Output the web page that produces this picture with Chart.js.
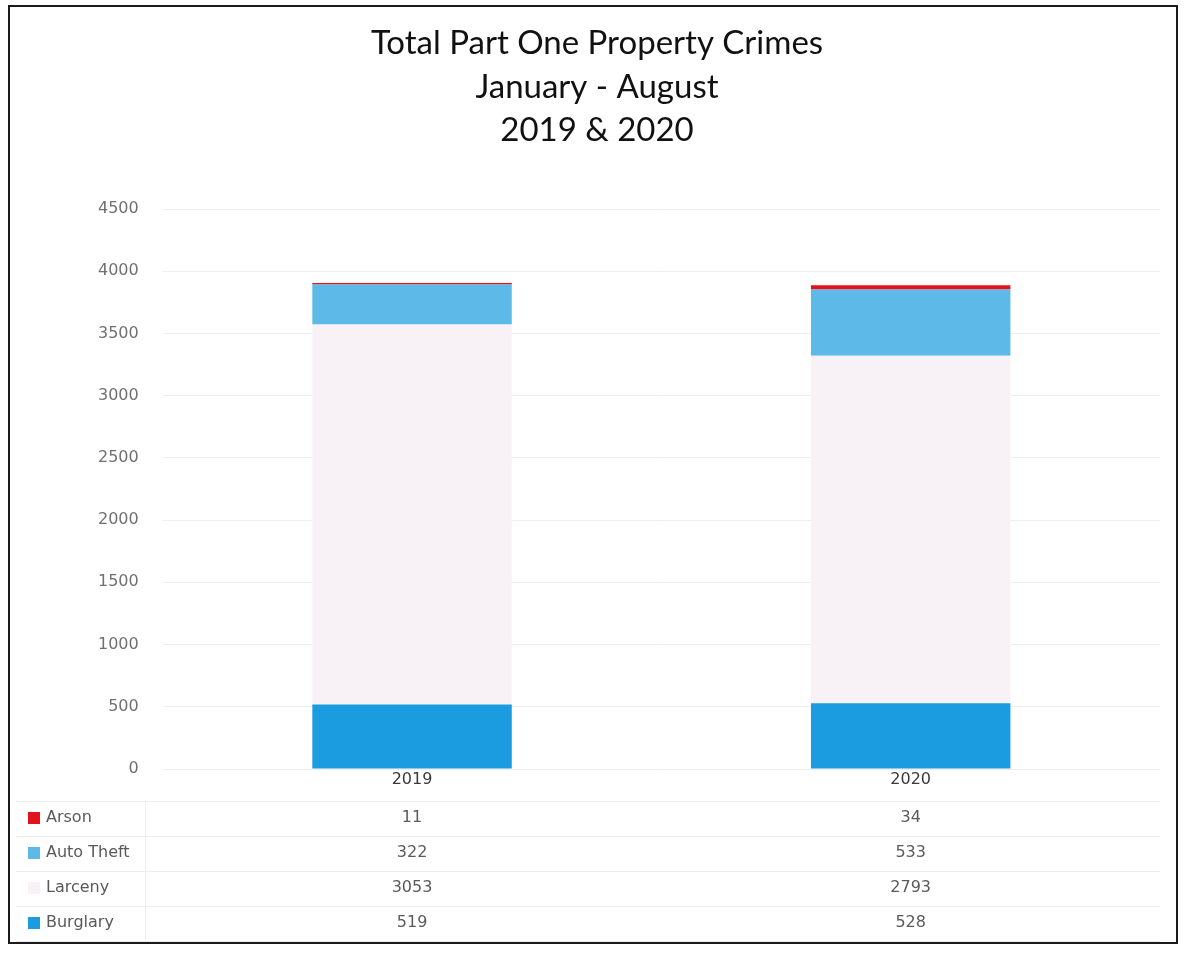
<!DOCTYPE html>
<html>
<head>
<meta charset="utf-8">
<title>Total Part One Property Crimes</title>
<script src="https://cdn.jsdelivr.net/npm/chart.js@4.4.1/dist/chart.umd.min.js"></script>
<style>
  html, body { margin: 0; padding: 0; background: #fff; }
  #wrap { position: relative; width: 1189px; height: 953px; }
  #frame { position: absolute; left: 8px; top: 5px; width: 1170px; height: 939px;
           border: 2px solid #1a1a1a; box-sizing: border-box; pointer-events: none; }
  canvas { position: absolute; left: 0; top: 0; }
</style>
</head>
<body>
<div id="wrap">
  <canvas id="chart" width="1189" height="953"></canvas>
  <div id="frame"></div>
</div>
<script>
// Years on the category axis
const categories = ['2019', '2020'];

// Offence counts, January - August
const burglary  = [519, 528];
const larceny   = [3053, 2793];
const autoTheft = [322, 533];
const arson     = [11, 34];

// Value axis
const yMax  = 4500;
const yStep = 500;

const titleLines = ['Total Part One Property Crimes', 'January - August', '2019 & 2020'];

const colors = {
  burglary: '#1b9be0',
  larceny: '#f8f2f6',
  autoTheft: '#5cb9e8',
  arson: '#e0141a'
};

// Three-line heading, centred on the page body
const heading = {
  id: 'heading',
  afterDraw(chart) {
    const ctx = chart.ctx;
    ctx.save();
    ctx.font = '33px Lato, "Open Sans", sans-serif';
    ctx.fillStyle = '#111';
    ctx.textAlign = 'center';
    ctx.textBaseline = 'alphabetic';
    titleLines.forEach((t, i) => ctx.fillText(t, 597, 54 + i * 43.5));
    ctx.restore();
  }
};

// Category labels and data table under the plot, one row per offence (top of stack first)
const dataTable = {
  id: 'dataTable',
  afterDraw(chart) {
    const ctx = chart.ctx;
    const x = chart.scales.x;
    const area = chart.chartArea;
    const rows = chart.data.datasets.slice().reverse();
    const rowH = 35;
    const firstRowY = area.bottom + 49;
    ctx.save();
    // faint row separators
    ctx.strokeStyle = '#ededed';
    ctx.lineWidth = 1;
    for (let r = 0; r <= rows.length; r++) {
      const ly = Math.round(firstRowY - rowH / 2 + r * rowH) + 0.5;
      ctx.beginPath();
      ctx.moveTo(16, ly);
      ctx.lineTo(area.right, ly);
      ctx.stroke();
    }
    ctx.beginPath();
    ctx.moveTo(145.5, firstRowY - rowH / 2);
    ctx.lineTo(145.5, firstRowY + rowH * (rows.length - 0.5));
    ctx.stroke();

    ctx.font = '16px "DejaVu Sans", sans-serif';
    ctx.textBaseline = 'middle';
    // year headers
    ctx.fillStyle = '#3a3a3a';
    ctx.textAlign = 'center';
    chart.data.labels.forEach((lab, i) => {
      ctx.fillText(lab, x.getPixelForValue(i), area.bottom + 11);
    });
    rows.forEach((ds, r) => {
      const cy = firstRowY + r * rowH;
      // legend key
      ctx.fillStyle = ds.backgroundColor;
      ctx.fillRect(28, cy - 6, 12, 12);
      ctx.fillStyle = '#5a5a5a';
      ctx.textAlign = 'left';
      ctx.fillText(ds.label, 46, cy);
      // values per year
      ctx.textAlign = 'center';
      ds.data.forEach((v, i) => {
        ctx.fillText(String(v), x.getPixelForValue(i), cy);
      });
    });
    ctx.restore();
  }
};

new Chart(document.getElementById('chart'), {
  type: 'bar',
  data: {
    labels: categories,
    datasets: [
      { label: 'Burglary', data: burglary, backgroundColor: colors.burglary },
      { label: 'Larceny', data: larceny, backgroundColor: colors.larceny },
      { label: 'Auto Theft', data: autoTheft, backgroundColor: colors.autoTheft },
      { label: 'Arson', data: arson, backgroundColor: colors.arson }
    ]
  },
  options: {
    responsive: false,
    animation: false,
    layout: { padding: { left: 74, right: 29, top: 209, bottom: 176 } },
    datasets: { bar: { categoryPercentage: 1, barPercentage: 0.4 } },
    plugins: {
      legend: { display: false },
      tooltip: { enabled: false },
      title: { display: false }
    },
    scales: {
      x: {
        stacked: true,
        grid: { display: false },
        border: { display: false },
        ticks: { display: false }
      },
      y: {
        stacked: true,
        min: 0,
        max: yMax,
        ticks: {
          stepSize: yStep,
          color: '#707070',
          padding: 24,
          font: { family: '"DejaVu Sans", sans-serif', size: 16 },
          callback: (v) => String(v)
        },
        grid: { color: '#eeeeee', drawTicks: false },
        border: { display: false }
      }
    }
  },
  plugins: [heading, dataTable]
});
</script>
</body>
</html>
